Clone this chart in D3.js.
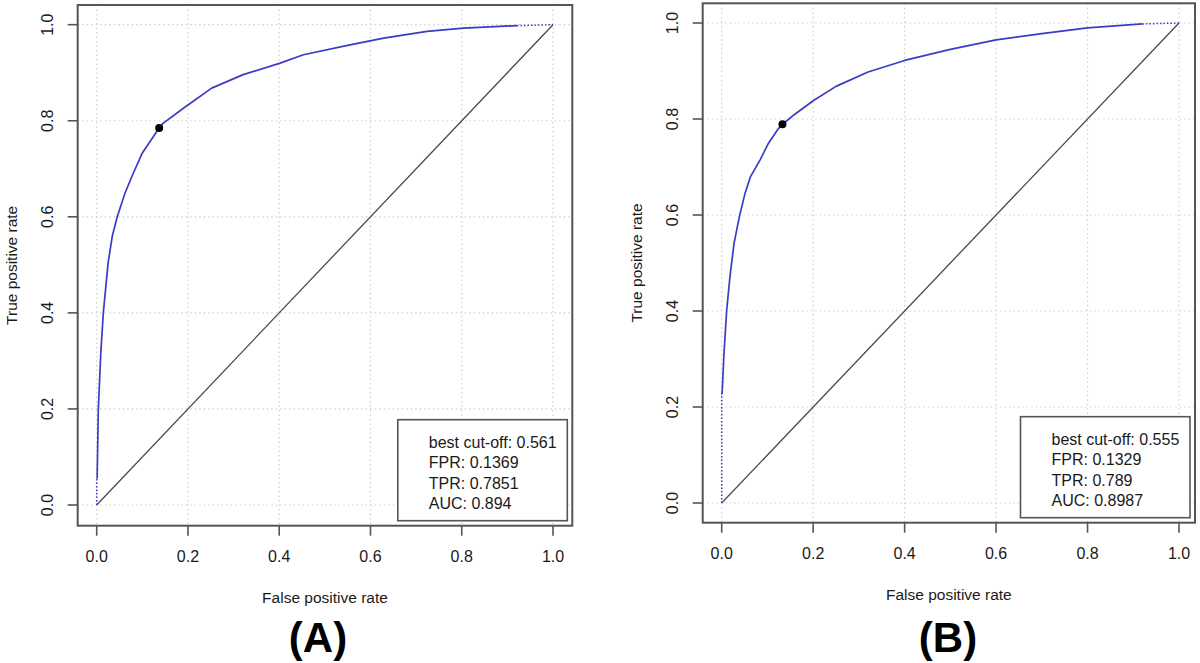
<!DOCTYPE html>
<html>
<head>
<meta charset="utf-8">
<script src="https://cdn.jsdelivr.net/npm/d3@7"></script>
<style>
  html, body { margin: 0; padding: 0; background: #fff; }
  svg { display: block; font-family: "Liberation Sans", Arial, Helvetica, sans-serif; }
</style>
</head>
<body>
<svg id="chart" width="1200" height="663"></svg>
<script>
// ---------------- DATA ----------------
const ticks = [0, 0.2, 0.4, 0.6, 0.8, 1.0];
const tickLabels = ["0.0", "0.2", "0.4", "0.6", "0.8", "1.0"];

const rocA_fpr = [0, 0, 0.001, 0.0035, 0.009, 0.0145, 0.025, 0.034, 0.045, 0.062, 0.077, 0.1, 0.1369, 0.146, 0.19, 0.252, 0.321, 0.402, 0.453, 0.555, 0.629, 0.724, 0.804, 0.921, 1];
const rocA_tpr = [0, 0.056, 0.056, 0.198, 0.317, 0.4, 0.504, 0.559, 0.6, 0.649, 0.684, 0.733, 0.7851, 0.795, 0.826, 0.868, 0.896, 0.92, 0.9375, 0.958, 0.972, 0.986, 0.993, 0.998, 1];
const bestA = {fpr: 0.1369, tpr: 0.7851};
const legendA = ["best cut-off: 0.561", "FPR: 0.1369", "TPR: 0.7851", "AUC: 0.894"];

const rocB_fpr = [0, 0, 0.001, 0.005, 0.011, 0.018, 0.027, 0.0385, 0.051, 0.063, 0.084, 0.102, 0.124, 0.1329, 0.16, 0.2, 0.25, 0.32, 0.4, 0.5, 0.6, 0.7, 0.8, 0.92, 1];
const rocB_tpr = [0, 0.229, 0.229, 0.312, 0.402, 0.471, 0.541, 0.596, 0.645, 0.68, 0.715, 0.749, 0.78, 0.789, 0.81, 0.838, 0.868, 0.898, 0.922, 0.945, 0.965, 0.978, 0.99, 0.998, 1];
const bestB = {fpr: 0.1329, tpr: 0.789};
const legendB = ["best cut-off: 0.555", "FPR: 0.1329", "TPR: 0.789", "AUC: 0.8987"];

const xTitle = "False positive rate";
const yTitle = "True positive rate";
const panelLabels = ["(A)", "(B)"];

// ---------------- LAYOUT ----------------
const panels = [
  {fpr: rocA_fpr, tpr: rocA_tpr, best: bestA, legend: legendA, label: panelLabels[0], labelX: 318,
   box: {l: 77.7, r: 572.3, t: 5, b: 525.7}, xr: [96.7, 553], yr: [505, 24.7]},
  {fpr: rocB_fpr, tpr: rocB_tpr, best: bestB, legend: legendB, label: panelLabels[1], labelX: 948,
   box: {l: 702.7, r: 1195, t: 3.3, b: 522.7}, xr: [721.7, 1179], yr: [503, 23]}
];

const svg = d3.select("#chart");
const textCol = "#1a1a1a";
const axisCol = "#555";

panels.forEach(p => {
  const g = svg.append("g");
  const x = d3.scaleLinear().domain([0, 1]).range(p.xr);
  const y = d3.scaleLinear().domain([0, 1]).range(p.yr);
  const B = p.box;

  // grid
  ticks.forEach(t => {
    g.append("line").attr("x1", x(t)).attr("x2", x(t)).attr("y1", B.t).attr("y2", B.b)
      .attr("stroke", "#cfcfcf").attr("stroke-width", 1.2).attr("stroke-dasharray", "1.5,3");
    g.append("line").attr("y1", y(t)).attr("y2", y(t)).attr("x1", B.l).attr("x2", B.r)
      .attr("stroke", "#cfcfcf").attr("stroke-width", 1.2).attr("stroke-dasharray", "1.5,3");
  });

  // diagonal
  g.append("line").attr("x1", x(0)).attr("y1", y(0)).attr("x2", x(1)).attr("y2", y(1))
    .attr("stroke", "#4a4a4a").attr("stroke-width", 1.3);

  // ROC curve
  const pts = p.fpr.map((f, i) => [f, p.tpr[i]]);
  const line = d3.line().x(d => x(d[0])).y(d => y(d[1]));
  const n = pts.length;
  g.append("path").attr("d", line(pts.slice(0, 2))).attr("fill", "none")
    .attr("stroke", "#3b3bc4").attr("stroke-width", 1.5).attr("stroke-dasharray", "1.5,2");
  g.append("path").attr("d", line(pts.slice(n - 2))).attr("fill", "none")
    .attr("stroke", "#3b3bc4").attr("stroke-width", 1.5).attr("stroke-dasharray", "1.5,2");
  g.append("path").attr("d", line(pts.slice(1, n - 1))).attr("fill", "none")
    .attr("stroke", "#3b3bc4").attr("stroke-width", 1.7).attr("stroke-linejoin", "round");

  // best point
  g.append("circle").attr("cx", x(p.best.fpr)).attr("cy", y(p.best.tpr)).attr("r", 4)
    .attr("fill", "#000");

  // box
  g.append("rect").attr("x", B.l).attr("y", B.t).attr("width", B.r - B.l).attr("height", B.b - B.t)
    .attr("fill", "none").attr("stroke", axisCol).attr("stroke-width", 2);

  // x axis ticks + labels
  ticks.forEach((t, i) => {
    g.append("line").attr("x1", x(t)).attr("x2", x(t)).attr("y1", B.b).attr("y2", B.b + 10)
      .attr("stroke", axisCol).attr("stroke-width", 1.6);
    g.append("text").attr("x", x(t)).attr("y", B.b + 31).attr("text-anchor", "middle")
      .attr("dominant-baseline", "central").attr("font-size", 16).attr("fill", textCol)
      .text(tickLabels[i]);
  });
  // y axis ticks + labels
  ticks.forEach((t, i) => {
    g.append("line").attr("x1", B.l - 10).attr("x2", B.l).attr("y1", y(t)).attr("y2", y(t))
      .attr("stroke", axisCol).attr("stroke-width", 1.6);
    g.append("text").attr("transform", `translate(${B.l - 30},${y(t)}) rotate(-90)`)
      .attr("text-anchor", "middle").attr("dominant-baseline", "central")
      .attr("font-size", 16).attr("fill", textCol).text(tickLabels[i]);
  });

  // axis titles
  const cx = (B.l + B.r) / 2, cy = (B.t + B.b) / 2;
  g.append("text").attr("x", cx).attr("y", B.b + 72).attr("text-anchor", "middle")
    .attr("dominant-baseline", "central").attr("font-size", 15.5).attr("fill", textCol).text(xTitle);
  g.append("text").attr("transform", `translate(${B.l - 66},${cy}) rotate(-90)`)
    .attr("text-anchor", "middle").attr("dominant-baseline", "central")
    .attr("font-size", 15.5).attr("fill", textCol).text(yTitle);

  // legend
  const lw = 169.5, lh = 101;
  const lx = B.r - 5 - lw, ly = B.b - 5 - lh;
  g.append("rect").attr("x", lx).attr("y", ly).attr("width", lw).attr("height", lh)
    .attr("fill", "#fff").attr("stroke", axisCol).attr("stroke-width", 1.6);
  p.legend.forEach((s, i) => {
    g.append("text").attr("x", lx + 31).attr("y", ly + 22.5 + i * 20.4)
      .attr("dominant-baseline", "central").attr("font-size", 16).attr("fill", textCol).text(s);
  });

  // panel label
  g.append("text").attr("x", p.labelX).attr("y", 637).attr("text-anchor", "middle")
    .attr("dominant-baseline", "central").attr("font-size", 42).attr("font-weight", "bold")
    .attr("fill", "#000").text(p.label);
});
</script>
</body>
</html>
